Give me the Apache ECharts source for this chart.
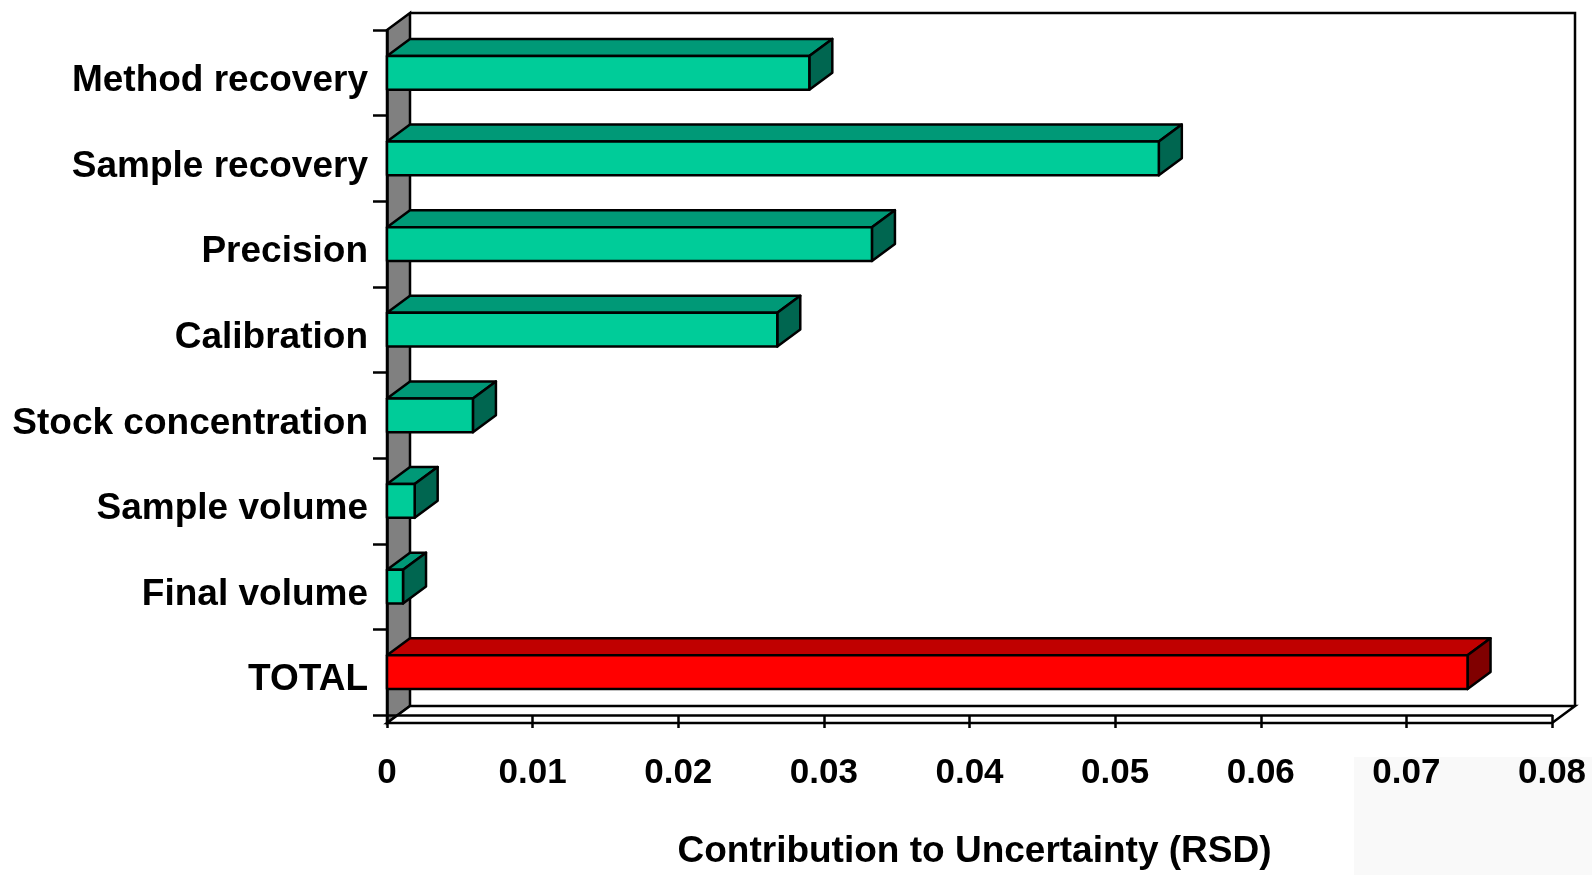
<!DOCTYPE html>
<html>
<head>
<meta charset="utf-8">
<script src="https://cdn.jsdelivr.net/npm/echarts@6/dist/echarts.min.js"></script>
<style>
html,body{margin:0;padding:0;background:#fff;}
#chart{width:1592px;height:875px;}
</style>
</head>
<body>
<div id="chart"></div>
<script>
const categories = ['Method recovery','Sample recovery','Precision','Calibration','Stock concentration','Sample volume','Final volume','TOTAL'];
const values = [0.029, 0.053, 0.0333, 0.0268, 0.0059, 0.0019, 0.0011, 0.0742];
const xTicks = [0, 0.01, 0.02, 0.03, 0.04, 0.05, 0.06, 0.07, 0.08];
const axisTitle = 'Contribution to Uncertainty (RSD)';

const FONT = '"Liberation Sans", Arial, sans-serif';
const G = {left: 387, right: 40, top: 30, bottom: 152};
const W = 1592, H = 875;
const DX = 23, DY = 17;
const gx0 = G.left, gx1 = W - G.right, gy0 = G.top, gy1 = H - G.bottom;

const greenFaces = {front: '#00CC99', top: '#009977', side: '#006650'};
const redFaces = {front: '#FF0000', top: '#C00000', side: '#800000'};

const chart = echarts.init(document.getElementById('chart'), null, {renderer: 'canvas'});

function renderBar(params, api) {
  const v = api.value(0);
  const ci = api.value(1);
  const p0 = api.coord([0, ci]);
  const p1 = api.coord([v, ci]);
  const band = api.size([0, 1])[1];
  const h = band * 0.395;
  const x0 = p0[0], x1 = p1[0];
  const yt = p0[1] - h / 2, yb = p0[1] + h / 2;
  const f = categories[ci] === 'TOTAL' ? redFaces : greenFaces;
  const st = {stroke: '#000', lineWidth: 2.5, lineJoin: 'round'};
  return {
    type: 'group',
    children: [
      {type: 'polygon', shape: {points: [[x0, yt], [x0 + DX, yt - DY], [x1 + DX, yt - DY], [x1, yt]]},
        style: Object.assign({fill: f.top}, st)},
      {type: 'polygon', shape: {points: [[x1, yt], [x1 + DX, yt - DY], [x1 + DX, yb - DY], [x1, yb]]},
        style: Object.assign({fill: f.side}, st)},
      {type: 'rect', shape: {x: x0, y: yt, width: x1 - x0, height: yb - yt},
        style: Object.assign({fill: f.front}, st)}
    ]
  };
}

const option = {
  backgroundColor: '#ffffff',
  animation: false,
  grid: {left: G.left, right: G.right, top: G.top, bottom: G.bottom, containLabel: false},
  xAxis: {
    type: 'value', min: xTicks[0], max: xTicks[xTicks.length - 1], interval: 0.01,
    axisLine: {show: true, lineStyle: {color: '#000', width: 2.5}},
    axisTick: {show: true, length: 13, lineStyle: {color: '#000', width: 2.5}},
    splitLine: {show: false},
    axisLabel: {
      margin: 41, color: '#000', fontSize: 35, fontWeight: 'bold', fontFamily: FONT,
      formatter: function (v) { return v === 0 ? '0' : v.toFixed(2); }
    },
    name: axisTitle, nameLocation: 'middle', nameGap: 118,
    nameTextStyle: {color: '#000', fontSize: 37, fontWeight: 'bold', fontFamily: FONT, padding: [0, 0, 0, 10]}
  },
  yAxis: {
    type: 'category', data: categories, inverse: true,
    axisLine: {show: true, lineStyle: {color: '#000', width: 2.5}},
    axisTick: {show: true, length: 14, alignWithLabel: false, lineStyle: {color: '#000', width: 2.5}},
    axisLabel: {margin: 19, color: '#000', fontSize: 37, fontWeight: 'bold', fontFamily: FONT,
      verticalAlign: 'top', lineHeight: 16},
    splitLine: {show: false}
  },
  graphic: [
    {type: 'rect', z: -10, silent: true, shape: {x: 1354, y: 757, width: W - 1354, height: H - 757}, style: {fill: '#f9f9f9'}},
    {type: 'polygon', z: 0, silent: true,
      shape: {points: [[gx0, gy0], [gx0 + DX, gy0 - DY], [gx0 + DX, gy1 - DY], [gx0, gy1]]},
      style: {fill: '#808080', stroke: '#000', lineWidth: 2.5}},
    {type: 'polygon', z: 0, silent: true,
      shape: {points: [[gx0, gy1], [gx0 + DX, gy1 - DY], [gx1 + DX, gy1 - DY], [gx1, gy1]]},
      style: {fill: '#ffffff', stroke: '#000', lineWidth: 2.5}},
    {type: 'polyline', z: 0, silent: true,
      shape: {points: [[gx0 + DX, gy0 - DY], [gx1 + DX, gy0 - DY], [gx1 + DX, gy1 - DY]]},
      style: {fill: null, stroke: '#000', lineWidth: 2.5}}
  ],
  series: [{
    type: 'custom',
    renderItem: renderBar,
    encode: {x: 0, y: 1},
    data: values.map(function (v, i) { return [v, i]; }),
    z: 5
  }]
};
chart.setOption(option);
</script>
</body>
</html>
